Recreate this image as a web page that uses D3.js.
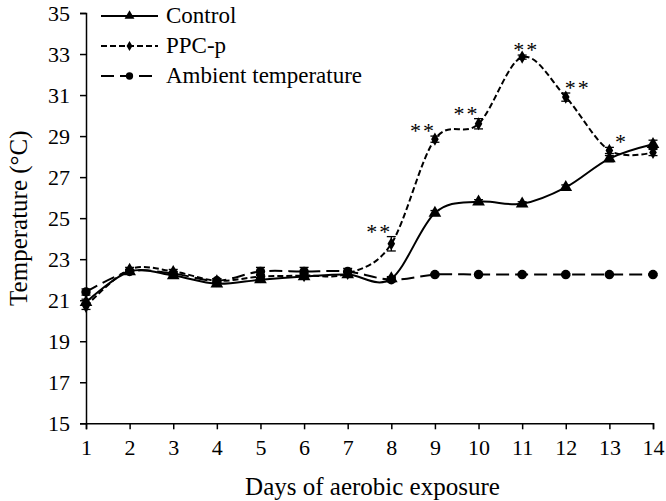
<!DOCTYPE html>
<html><head><meta charset="utf-8">
<script src="https://cdn.jsdelivr.net/npm/d3@7"></script>
<style>
svg text{font-family:'Liberation Serif',Tinos,'Times New Roman',serif !important;}
</style>
</head><body style="margin:0">
<svg id="c" width="666" height="501" font-family="Liberation Serif"></svg>
<script>
const days = [1,2,3,4,5,6,7,8,9,10,11,12,13,14];
const yTicks = [15,17,19,21,23,25,27,29,31,33,35];
const control    = [20.9,22.4,22.2,21.8,22.0,22.15,22.25,22.05,25.25,25.8,25.7,26.5,27.9,28.6];
const controlErr = [0.15,0.1,0.1,0.1,0.1,0.1,0.1,0.1,0.12,0.1,0.1,0.12,0.15,0.2];
const ppc        = [20.7,22.5,22.4,21.95,22.15,22.2,22.3,23.75,28.85,29.6,32.85,30.9,28.3,28.2];
const ppcErr     = [0.15,0.1,0.1,0.1,0.1,0.1,0.1,0.35,0.15,0.25,0.1,0.2,0.15,0.15];
const ambient    = [21.4,22.4,22.3,21.95,22.4,22.4,22.4,22.0,22.25,22.25,22.25,22.25,22.25,22.25];
const ambientErr = [0.15,0.1,0.1,0.1,0.2,0.2,0.15,0.1,0.05,0.05,0.05,0.05,0.05,0.05];
const sig        = ["","","","","","","","**","**","**","**","**","*",""];
const seriesNames = ["Control","PPC-p","Ambient temperature"];

const FONT = "Liberation Serif";
const svg = d3.select("#c");
const x = d3.scaleLinear().domain([1,14]).range([86,653]);
const y = d3.scaleLinear().domain([15,35]).range([423.3,13]);

function txt(sel, size){
  return sel.style("font-family",FONT).style("font-size",size+"px").attr("fill","#000");
}

const xAxis = svg.append("g").attr("transform","translate(0,"+y(15)+")")
  .call(d3.axisBottom(x).tickValues(days).tickFormat(d3.format("d")).tickSizeOuter(0).tickSize(6).tickPadding(10));
const yAxis = svg.append("g").attr("transform","translate("+x(1)+",0)")
  .call(d3.axisLeft(y).tickValues(yTicks).tickFormat(d3.format("d")).tickSizeOuter(0).tickSize(6).tickPadding(10));
[xAxis,yAxis].forEach(a=>{
  a.attr("font-family",FONT).attr("font-size",22);
  a.selectAll("path,line").attr("stroke","#000").attr("stroke-width",1.5);
  txt(a.selectAll("text"),22);
});
xAxis.selectAll("text").attr("dy","0.71em");

txt(svg.append("text"),25).attr("x",(x(1)+x(14))/2+3).attr("y",495).attr("text-anchor","middle")
  .text("Days of aerobic exposure");
txt(svg.append("text"),25).attr("transform","translate(27,"+((y(15)+y(35))/2)+") rotate(-90)")
  .attr("text-anchor","middle").text("Temperature (°C)");

const series = [
  {name:seriesNames[0], v:control, e:controlErr, dash:null, marker:d3.symbolTriangle, size:70},
  {name:seriesNames[1], v:ppc, e:ppcErr, dash:"6,3", marker:d3.symbolDiamond, size:50},
  {name:seriesNames[2], v:ambient, e:ambientErr, dash:"13,6", marker:d3.symbolCircle, size:70}
];
const line = d3.line().x((d,i)=>x(days[i])).y(d=>y(d)).curve(d3.curveCardinal.tension(0));

series.slice().reverse().forEach(s=>{
  const g = svg.append("g");
  g.append("path").datum(s.v).attr("d",line).attr("fill","none").attr("stroke","#000")
    .attr("stroke-width",2).attr("stroke-dasharray",s.dash);
  s.v.forEach((v,i)=>{
    const cx = x(days[i]);
    g.append("line").attr("x1",cx).attr("x2",cx).attr("y1",y(v-s.e[i])).attr("y2",y(v+s.e[i])).attr("stroke","#000").attr("stroke-width",1.3);
    [v-s.e[i],v+s.e[i]].forEach(ev=>g.append("line").attr("x1",cx-4.5).attr("x2",cx+4.5).attr("y1",y(ev)).attr("y2",y(ev)).attr("stroke","#000").attr("stroke-width",1.3));
  });
  g.selectAll("path.m").data(s.v).enter().append("path").attr("class","m")
    .attr("d",d3.symbol().type(s.marker).size(s.size))
    .attr("transform",(d,i)=>"translate("+x(days[i])+","+y(d)+")").attr("fill","#000");
});

sig.forEach((t,i)=>{
  if(!t) return;
  const prev = ppc[i-1], next = i<ppc.length-1 ? ppc[i+1] : ppc[i];
  let dx = 0;
  if (next>ppc[i] && prev<ppc[i]) dx=-12; else if (next<ppc[i] && prev>ppc[i]) dx=12; else dx=4;
  txt(svg.append("text"),22).attr("x",x(days[i])+dx).attr("y",y(ppc[i]+ppcErr[i])+2)
    .attr("text-anchor","middle").style("letter-spacing","2px").text(t);
});

series.forEach((s,i)=>{
  const yy = 16 + i*30;
  svg.append("line").attr("x1",101).attr("x2",158).attr("y1",yy).attr("y2",yy).attr("stroke","#000")
    .attr("stroke-width",2).attr("stroke-dasharray",s.dash);
  svg.append("path").attr("d",d3.symbol().type(s.marker).size(s.size*0.6)).attr("transform","translate(129.5,"+yy+")");
  txt(svg.append("text"),23).attr("x",166).attr("y",yy+7).text(s.name);
});
</script></body></html>
